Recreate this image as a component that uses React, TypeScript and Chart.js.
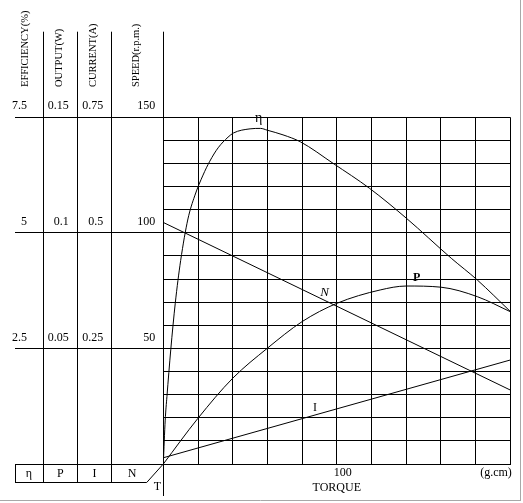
import { useEffect, useRef } from 'react';
import { Chart, registerables } from 'chart.js';

Chart.register(...registerables);

// ---- data (torque in g.cm) ----
const torqueEff = [0, 1.1, 2.1, 4.3, 6.9, 10, 14.2, 18.1, 22.9, 26.8, 31.6, 37.3, 40.4, 50, 56, 60, 69, 79, 98, 119, 140, 166, 181, 200];
const efficiency = [0, 0.95, 1.46, 2.47, 3.48, 4.4, 5.3, 5.8, 6.25, 6.55, 6.84, 7.07, 7.16, 7.25, 7.26, 7.22, 7.12, 6.97, 6.5, 5.96, 5.32, 4.45, 3.98, 3.3];

const torqueOut = [0, 20, 40, 60, 80, 100, 125, 140, 160, 181, 200];
const output = [0, 0.0198, 0.0371, 0.0501, 0.0616, 0.0695, 0.0753, 0.077, 0.0765, 0.0724, 0.0659];

const torqueLine = [0, 200];
const current = [0.0135, 0.225];
const speed = [104.5, 32];

// ---- tick labels ----
const effTickValues = [2.5, 5, 7.5];
const effTickLabels = ['2.5', '5', '7.5'];
const outTickValues = [0.05, 0.1, 0.15];
const outTickLabels = ['0.05', '0.1', '0.15'];
const curTickValues = [0.25, 0.5, 0.75];
const curTickLabels = ['0.25', '0.5', '0.75'];
const speedTickValues = [50, 100, 150];
const speedTickLabels = ['50', '100', '150'];
const torqueTickValues = [100];
const torqueTickLabels = ['100'];

const headers = ['EFFICIENCY(%)', 'OUTPUT(W)', 'CURRENT(A)', 'SPEED(r.p.m.)'];
const symbols = ['η', 'P', 'I', 'N'];

// curve name labels, in the units of each curve's axis
const curveLabelText = ['η', 'P', 'N', 'I'];
const curveLabelTorque = [55, 146, 93, 87.5];
const curveLabelValue = [7.48, 0.0805, 74, 0.121];
const curveLabelAxis = ['yEff', 'yOut', 'ySpeed', 'yCur'];

const SERIF = '"Liberation Serif", "Times New Roman", serif';

const zip = (xs: number[], ys: number[]) => xs.map((x, i) => ({ x, y: ys[i] }));
const ap = (v: number) => Math.round(v - 0.5) + 0.5;

const tablePlugin = {
  id: 'motorTable',
  afterDraw(chart: any) {
    const { ctx, chartArea: ca, scales } = chart;
    const cols = [scales.yEff, scales.yOut, scales.yCur, scales.ySpeed];
    const x0 = scales.yEff.right - 28;
    const topY = 31.7;
    const rowBottom = ca.bottom + 18.3;
    const diagX = ca.left - 16.6;
    ctx.save();
    ctx.strokeStyle = '#000';
    ctx.lineWidth = 1;
    const line = (x1: number, y1: number, x2: number, y2: number) => {
      ctx.beginPath();
      ctx.moveTo(x1, y1);
      ctx.lineTo(x2, y2);
      ctx.stroke();
    };
    // column separators
    [scales.yOut, scales.yCur, scales.ySpeed].forEach((s: any) => line(ap(s.left), topY, ap(s.left), rowBottom));
    line(ap(ca.left), topY, ap(ca.left), ca.bottom + 32);
    // horizontal rules at the labelled values
    speedTickValues.forEach((v) => {
      const y = ap(scales.ySpeed.getPixelForValue(v));
      line(x0, y, ca.left, y);
    });
    // bottom symbol row
    const yb = ap(ca.bottom);
    line(x0, yb, ca.left, yb);
    line(ap(x0), yb, ap(x0), ap(rowBottom));
    line(x0, ap(rowBottom), diagX, ap(rowBottom));
    line(diagX, ap(rowBottom), ca.left, ca.bottom);

    ctx.fillStyle = '#000';
    ctx.font = `12px ${SERIF}`;
    ctx.textAlign = 'center';
    ctx.textBaseline = 'middle';
    symbols.forEach((s, i) => {
      const c = cols[i];
      const left = i === 0 ? x0 : c.left;
      const cx = i === 3 ? (c.left + diagX) / 2 + 3 : (left + c.right) / 2;
      ctx.fillText(s, cx, ca.bottom + 10);
    });
    ctx.fillText('T', ca.left - 6, ca.bottom + 22.5);
    ctx.textAlign = 'right';
    ctx.fillText('(g.cm)', ca.right + 1.5, ca.bottom + 9);

    // rotated column headers
    ctx.font = `10.5px ${SERIF}`;
    headers.forEach((h, i) => {
      const c = cols[i];
      const left = i === 0 ? x0 : c.left;
      const cx = (left + c.right) / 2 - (i === 0 ? 3.5 : 1.3);
      ctx.save();
      ctx.translate(cx, 87);
      ctx.rotate(-Math.PI / 2);
      ctx.textAlign = 'left';
      ctx.textBaseline = 'middle';
      ctx.fillText(h, 0, 0);
      ctx.restore();
    });

    // curve names
    const fonts = [`14px ${SERIF}`, `bold 12px ${SERIF}`, `italic 13px ${SERIF}`, `12px ${SERIF}`];
    ctx.textAlign = 'center';
    curveLabelText.forEach((t, i) => {
      const x = scales.x.getPixelForValue(curveLabelTorque[i]);
      const y = scales[curveLabelAxis[i]].getPixelForValue(curveLabelValue[i]);
      ctx.font = fonts[i];
      ctx.fillText(t, x, y);
    });

    // picture frame
    ctx.strokeStyle = '#a8a8a8';
    line(520.5, 0, 520.5, 501);
    line(0, 500.5, 521, 500.5);
    ctx.restore();
  },
};

const labelFrom = (values: number[], labels: string[]) => (v: any) => {
  const i = values.findIndex((x) => Math.abs(x - Number(v)) < 1e-9);
  return i >= 0 ? labels[i] : '';
};

const sideAxis = (
  weight: number,
  max: number,
  values: number[],
  labels: string[],
  width: number,
  padding: number
) => ({
  type: 'linear' as const,
  position: 'left' as const,
  weight,
  min: 0,
  max,
  grid: { display: false, drawTicks: false, tickLength: 0 },
  border: { display: false },
  ticks: {
    autoSkip: false,
    padding,
    labelOffset: -11,
    color: '#000',
    font: { size: 12, family: SERIF },
    callback: labelFrom(values, labels),
  },
  afterBuildTicks: (s: any) => {
    s.ticks = [0, ...values].map((value) => ({ value }));
  },
  afterFit: (s: any) => {
    s.width = width;
  },
});

export default function App() {
  const ref = useRef<HTMLCanvasElement>(null);

  useEffect(() => {
    if (!ref.current) return;
    const lineStyle = {
      borderColor: '#000',
      borderWidth: 1,
      pointRadius: 0,
      fill: false,
    };
    const chart = new Chart(ref.current, {
      type: 'line',
      data: {
        datasets: [
          { ...lineStyle, label: 'η', data: zip(torqueEff, efficiency), yAxisID: 'yEff', cubicInterpolationMode: 'monotone' },
          { ...lineStyle, label: 'P', data: zip(torqueOut, output), yAxisID: 'yOut', cubicInterpolationMode: 'monotone' },
          { ...lineStyle, label: 'I', data: zip(torqueLine, current), yAxisID: 'yCur', tension: 0 },
          { ...lineStyle, label: 'N', data: zip(torqueLine, speed), yAxisID: 'ySpeed', tension: 0 },
        ],
      },
      options: {
        responsive: false,
        animation: false,
        layout: { padding: { left: 0, top: 117.3, right: 12.7, bottom: 0 } },
        plugins: { legend: { display: false }, tooltip: { enabled: false } },
        scales: {
          x: {
            type: 'linear',
            min: 0,
            max: 200,
            grid: { color: '#000', lineWidth: 1, drawTicks: false, tickLength: 0 },
            border: { display: true, color: '#000' },
            ticks: {
              stepSize: 20,
              autoSkip: false,
              maxRotation: 0,
              labelOffset: 6,
              padding: 2,
              color: '#000',
              font: { size: 12, family: SERIF },
              callback: labelFrom(torqueTickValues, torqueTickLabels),
            },
            title: {
              display: true,
              text: 'TORQUE',
              color: '#000',
              font: { size: 12, family: SERIF },
              padding: { top: 0, bottom: 8 },
            },
            afterFit: (s: any) => {
              s.height = 39;
            },
          },
          yEff: sideAxis(4, 7.5, effTickValues, effTickLabels, 43, 16),
          yOut: sideAxis(3, 0.15, outTickValues, outTickLabels, 34.7, 9),
          yCur: sideAxis(2, 0.75, curTickValues, curTickLabels, 33.6, 8),
          ySpeed: {
            type: 'linear',
            position: 'left',
            weight: 1,
            min: 0,
            max: 150,
            grid: { color: '#000', lineWidth: 1, drawTicks: false, tickLength: 0 },
            border: { display: true, color: '#000' },
            ticks: {
              stepSize: 10,
              autoSkip: false,
              padding: 8,
              labelOffset: -11,
              color: '#000',
              font: { size: 12, family: SERIF },
              callback: labelFrom(speedTickValues, speedTickLabels),
            },
            afterFit: (s: any) => {
              s.width = 52;
            },
          },
        },
      },
      plugins: [tablePlugin],
    } as any);
    return () => chart.destroy();
  }, []);

  return (
    <div style={{ position: 'absolute', left: 0, top: 0, width: 523, height: 503, background: '#fff' }}>
      <canvas ref={ref} width={523} height={503} style={{ display: 'block', width: 523, height: 503 }} />
    </div>
  );
}
